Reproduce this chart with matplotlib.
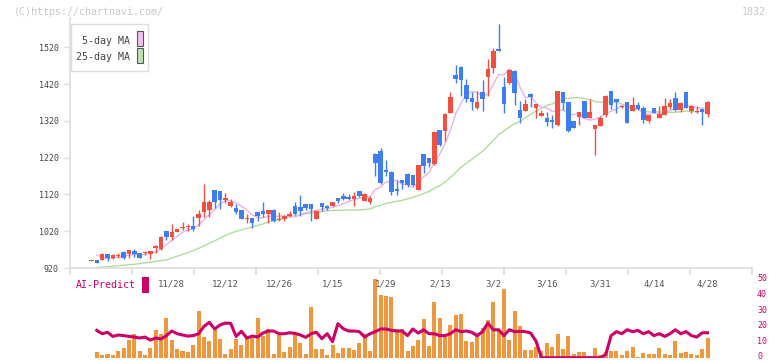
import matplotlib
matplotlib.use("Agg")
import matplotlib.pyplot as plt
from matplotlib.patches import Rectangle
from matplotlib.transforms import blended_transform_factory
import numpy as np
import pandas as pd

plt.rcParams['font.family'] = ['DejaVu Sans Mono']

# daily candles (index 0 .. 115)
opens = [940, 941, 942, 958, 947, 952, 963, 958, 967, 960, 961, 959, 975, 972, 1020, 1004, 1018, 1029, 1031, 1035,
         1056, 1072, 1078, 1132, 1129, 1105, 1089, 1083, 1077, 1052, 1056, 1072, 1075, 1066, 1077, 1050, 1052, 1060, 1088, 1085,
         1094, 1094, 1054, 1096, 1088, 1089, 1110, 1115, 1114, 1107, 1129, 1103, 1099, 1229, 1238, 1186, 1181, 1134, 1159, 1175,
         1172, 1132, 1229, 1218, 1202, 1295, 1293, 1342, 1444, 1466, 1417, 1382, 1354, 1399, 1440, 1464, 1515, 1411, 1422, 1455,
         1349, 1347, 1394, 1355, 1334, 1329, 1320, 1308, 1397, 1371, 1319, 1331, 1374, 1328, 1297, 1306, 1335, 1401, 1379, 1357,
         1371, 1347, 1363, 1355, 1320, 1355, 1328, 1337, 1358, 1382, 1349, 1398, 1347, 1343, 1352, 1339]
highs = [942, 943, 961, 959, 959, 960, 965, 970, 971, 961, 965, 967, 982, 1008, 1021, 1040, 1027, 1045, 1039, 1061,
         1077, 1148, 1105, 1133, 1130, 1123, 1108, 1094, 1078, 1068, 1057, 1073, 1099, 1078, 1081, 1072, 1063, 1075, 1099, 1118,
         1095, 1095, 1077, 1097, 1091, 1100, 1111, 1124, 1120, 1127, 1130, 1123, 1115, 1232, 1247, 1213, 1183, 1159, 1160, 1177,
         1173, 1200, 1230, 1220, 1293, 1296, 1340, 1399, 1471, 1468, 1433, 1399, 1402, 1432, 1487, 1517, 1583, 1438, 1460, 1457,
         1373, 1380, 1395, 1367, 1350, 1344, 1335, 1402, 1398, 1372, 1320, 1344, 1375, 1379, 1310, 1332, 1389, 1402, 1380, 1361,
         1372, 1384, 1370, 1360, 1337, 1356, 1360, 1382, 1379, 1398, 1372, 1399, 1362, 1360, 1353, 1373]
lows = [939, 933, 941, 940, 945, 946, 944, 946, 951, 947, 955, 945, 960, 970, 996, 996, 1017, 1022, 1020, 1021,
        1034, 1059, 1059, 1084, 1080, 1096, 1087, 1067, 1053, 1041, 1030, 1047, 1058, 1041, 1045, 1048, 1048, 1058, 1063, 1061,
        1078, 1047, 1053, 1076, 1078, 1088, 1097, 1106, 1106, 1089, 1113, 1102, 1095, 1170, 1148, 1170, 1118, 1118, 1134, 1140,
        1143, 1131, 1179, 1195, 1200, 1252, 1266, 1340, 1423, 1387, 1370, 1349, 1352, 1347, 1387, 1449, 1509, 1342, 1420, 1363,
        1313, 1346, 1358, 1328, 1332, 1306, 1301, 1307, 1349, 1290, 1300, 1310, 1327, 1327, 1227, 1305, 1331, 1353, 1342, 1354,
        1314, 1346, 1350, 1315, 1315, 1340, 1327, 1335, 1352, 1347, 1345, 1354, 1341, 1342, 1309, 1330]
closes = [941, 934, 958, 947, 955, 955, 948, 968, 959, 948, 964, 967, 979, 1003, 1005, 1018, 1026, 1032, 1034, 1026,
          1067, 1099, 1099, 1100, 1105, 1110, 1099, 1072, 1054, 1055, 1043, 1062, 1066, 1077, 1048, 1054, 1061, 1066, 1066, 1076,
          1082, 1080, 1075, 1086, 1083, 1099, 1102, 1107, 1107, 1115, 1116, 1121, 1109, 1206, 1152, 1180, 1127, 1130, 1150, 1145,
          1145, 1200, 1198, 1206, 1289, 1254, 1338, 1384, 1433, 1431, 1378, 1372, 1372, 1379, 1460, 1509, 1510, 1366, 1458, 1396,
          1328, 1365, 1385, 1365, 1342, 1317, 1318, 1401, 1369, 1293, 1301, 1343, 1328, 1344, 1308, 1329, 1388, 1363, 1372, 1360,
          1315, 1363, 1351, 1323, 1335, 1342, 1339, 1360, 1368, 1349, 1368, 1355, 1360, 1345, 1344, 1371]

# moving-average values before enough visible days exist
ma5_head_x = [1, 2, 3]
ma5_head = [955, 950, 945]
ma25_head_x = [1, 4, 8, 10, 14, 16, 19, 21, 23]
ma25_head = [921, 925, 930, 934, 942, 952, 967, 980, 994]

# lower panel, index 1 .. 115
volume = [3.8, 1.9, 2.5, 1.9, 4.4, 6.3, 11.3, 15.1, 4.4, 1.9,
          6.3, 17.6, 15.1, 25.2, 11.3, 5.7, 4.4, 3.8, 8.2, 29.6,
          13.2, 10.7, 17.6, 12.0, 2.5, 5.7, 12.0, 8.2, 12.6, 12.6,
          25.2, 13.9, 18.3, 2.5, 14.5, 3.8, 6.9, 15.1, 9.4, 2.5,
          32.1, 5.7, 5.7, 1.9, 8.2, 3.1, 6.3, 6.3, 5.0, 9.4,
          15.1, 4.4, 49.7, 39.7, 39.0, 38.4, 18.3, 18.3, 4.0, 7.6,
          11.3, 24.6, 7.6, 34.8, 25.2, 13.2, 20.8, 27.1, 27.7, 10.7,
          10.1, 14.5, 18.9, 23.9, 35.3, 17.0, 43.5, 11.3, 29.6, 20.2,
          5.0, 5.0, 6.9, 4.0, 9.4, 6.9, 15.1, 5.7, 13.9, 2.5,
          3.8, 3.8, 1.3, 6.3, 1.9, 3.8, 4.4, 4.4, 1.9, 4.4,
          6.9, 0.6, 3.1, 2.5, 2.5, 6.3, 2.5, 1.9, 10.7, 3.1,
          3.8, 2.5, 1.9, 5.7, 12.6]
ai_predict = [17.2, 15.1, 16.0, 13.4, 14.3, 13.9, 13.4, 13.0, 12.4, 13.0,
              11.1, 12.4, 11.8, 13.9, 16.8, 15.1, 14.3, 13.6, 13.9, 15.1,
              19.7, 22.3, 18.1, 20.6, 21.8, 21.6, 13.4, 16.6, 12.4, 13.6,
              13.0, 15.5, 16.8, 16.8, 15.1, 15.1, 15.7, 15.3, 14.3, 12.8,
              15.1, 16.0, 12.0, 15.1, 10.1, 21.4, 18.3, 16.8, 16.8, 16.4,
              13.0, 15.1, 16.4, 18.1, 18.1, 17.2, 16.8, 16.8, 13.9, 18.1,
              15.5, 17.6, 15.1, 15.1, 13.9, 13.9, 15.1, 17.6, 16.4, 16.8,
              16.0, 13.9, 16.4, 21.8, 17.6, 17.6, 13.9, 17.6, 16.4, 16.6,
              16.4, 15.5, 10.3, 0, 0, 0, 0, 0, 0, 0,
              0, 0, 0, 0, 0, 2.0, 13.9, 16.4, 15.1, 17.6,
              16.4, 17.2, 15.1, 16.4, 13.9, 15.1, 13.4, 15.1, 17.6, 15.1,
              16.4, 13.9, 13.0, 15.7, 15.7]
ai_ticks = [0, 10, 20, 30, 40, 50]

date_labels = ['11/28', '12/12', '12/26', '1/15', '1/29', '2/13', '3/2', '3/16', '3/31', '4/14', '4/28']
date_idx = [15, 25, 35, 45, 55, 65, 75, 85, 95, 105, 115]

RED = '#ef5040'
BLUE = '#3f7eee'
CRIMSON = '#cc0066'

W, H = 772, 361
fig = plt.figure(figsize=(W / 100, H / 100), dpi=100)


def fx(px):
    return px / W


def fy(py):
    return 1 - py / H


ax = fig.add_axes([fx(70), fy(268), fx(752) - fx(70), fy(17.8) - fy(268)])
ax2 = fig.add_axes([fx(70), fy(357.7), fx(752) - fx(70), fy(278.3) - fy(357.7)])

x = np.arange(len(closes))
o = np.array(opens)
c = np.array(closes)
up = c >= o
cols = np.where(up, RED, BLUE)
bottom = np.minimum(o, c)
height = np.maximum(np.abs(c - o), 3)

ax.vlines(x, lows, highs, colors=cols, linewidth=1.0, zorder=2)
ax.bar(x, height, bottom=bottom, width=0.85, color=cols, linewidth=0, zorder=3)

# moving averages
s = pd.Series(closes, dtype=float)
ma5 = s.rolling(5).mean()
ma25 = s.rolling(25).mean()
ma5_x = ma5_head_x + list(range(4, len(closes)))
ma5_y = ma5_head + list(ma5[4:])
ma25_x = ma25_head_x + list(range(24, len(closes)))
ma25_y = ma25_head + list(ma25[24:])
ax.plot(ma25_x, ma25_y, color='#b2dba0', linewidth=1.0, zorder=1)
ax.plot(ma5_x, ma5_y, color='#e8b2ea', linewidth=1.0, zorder=1)

ax.set_xlim(-4.0, 123.3)
ax.set_ylim(920, 1600)
ax.set_yticks(range(920, 1521, 100))
ax.set_xticks(np.linspace(-4.0, 123.3, 12))
ax.set_xticklabels([])
for sp in ['top', 'right']:
    ax.spines[sp].set_visible(False)
for sp in ['left', 'bottom']:
    ax.spines[sp].set_color('#dddddd')
    ax.spines[sp].set_linewidth(1.2)
ax.tick_params(axis='y', length=4, color='#dddddd', labelcolor='#444444', labelsize=6, pad=4, width=1)
ax.tick_params(axis='x', length=5, color='#dddddd', width=1.2)

# lower panel
lx = np.arange(1, len(closes))
ax2.bar(lx, volume, width=0.75, color='#f0963c', linewidth=0, zorder=1)
ax2.plot(lx, ai_predict, color=CRIMSON, linewidth=2.2, zorder=2)
ax2.set_xlim(-4.0, 123.3)
ax2.set_ylim(0, 50)
ax2.set_xticks([])
ax2.set_yticks([])
for sp in ax2.spines.values():
    sp.set_visible(False)
ax2.patch.set_alpha(0)

# right-hand scale of the AI panel (nudged up so the 0 stays inside)
tr2 = blended_transform_factory(fig.transFigure, ax2.transData)
for v in ai_ticks:
    fig.text(fx(757), v + 1.0 if v == 0 else v, str(v), transform=tr2, ha='left', va='center',
             fontsize=6, color=CRIMSON)

# date labels between the panels
tr = blended_transform_factory(ax.transData, fig.transFigure)
for d, i in zip(date_labels, date_idx):
    fig.text(i, fy(284), d, transform=tr, ha='center', va='center', fontsize=6.5, color='#555555')

fig.text(fx(76), fy(285), 'AI-Predict', ha='left', va='center', fontsize=7.2, color=CRIMSON)
fig.add_artist(Rectangle((fx(142), fy(293)), fx(7), fy(277) - fy(293), transform=fig.transFigure,
                         facecolor=CRIMSON, edgecolor='none'))

# legend box
fig.add_artist(Rectangle((fx(70.5), fy(71)), fx(148) - fx(70.5), fy(24) - fy(71), transform=fig.transFigure,
                         facecolor='white', edgecolor='#dddddd', linewidth=1, zorder=5))
fig.text(fx(130), fy(41), '5-day MA', ha='right', va='center', fontsize=7.2, color='#444444', zorder=6)
fig.text(fx(130), fy(57), '25-day MA', ha='right', va='center', fontsize=7.2, color='#444444', zorder=6)
fig.add_artist(Rectangle((fx(136.5), fy(46)), fx(6), fy(31.5) - fy(46), transform=fig.transFigure,
                         facecolor='#f0c0f0', edgecolor='#555555', linewidth=0.8, zorder=6))
fig.add_artist(Rectangle((fx(136.5), fy(63)), fx(6), fy(48.5) - fy(63), transform=fig.transFigure,
                         facecolor='#c0e0b0', edgecolor='#555555', linewidth=0.8, zorder=6))

fig.text(fx(14), fy(12), '(C)https://chartnavi.com/', ha='left', va='center', fontsize=7.2, color='#c8c8c8')
fig.text(fx(766), fy(12), '1832', ha='right', va='center', fontsize=7.2, color='#c8c8c8')

fig.savefig('out.png', dpi=100)
